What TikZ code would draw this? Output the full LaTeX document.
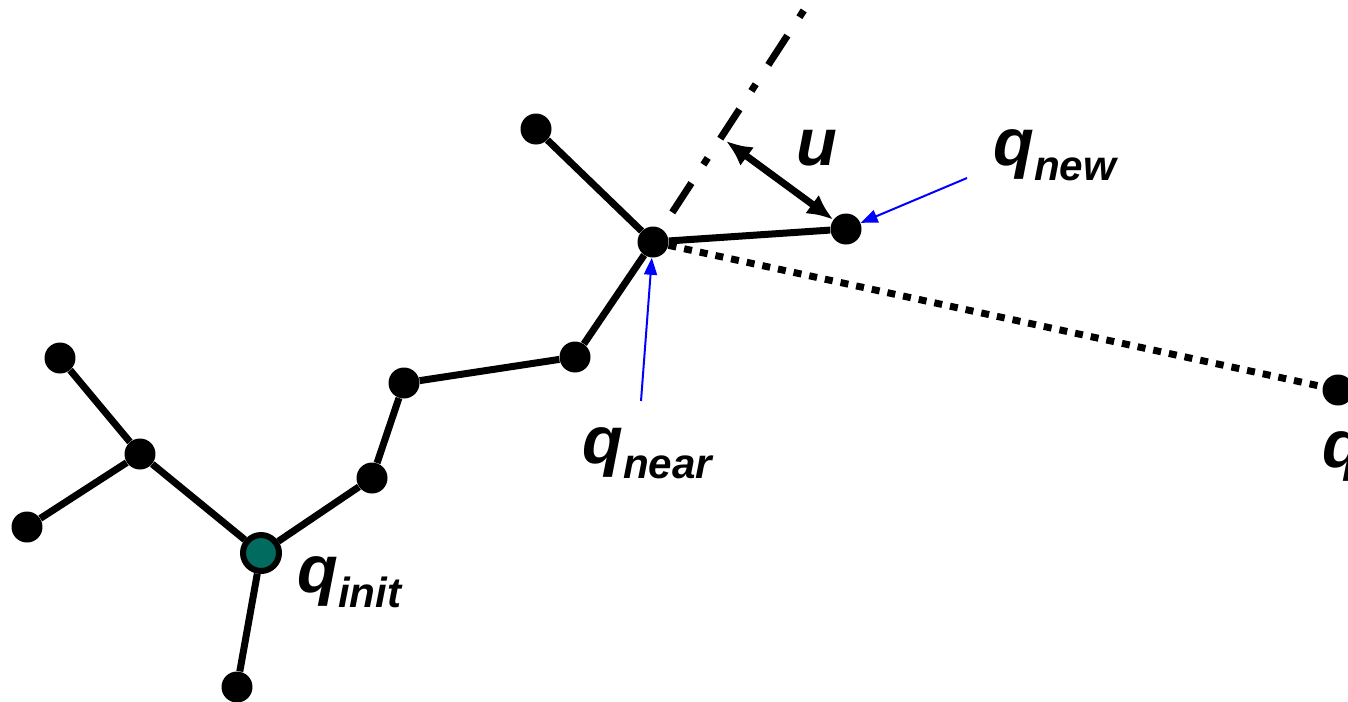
\documentclass[tikz,border=0pt]{standalone}
\usepackage{fontspec}
\setmainfont{Liberation Sans}
\usetikzlibrary{arrows.meta}
\definecolor{initteal}{RGB}{0,107,94}
\newcommand{\qsub}[1]{q\raisebox{-0.3cm}{\fontsize{24}{24}\selectfont #1}}

\begin{document}
\begin{tikzpicture}[x=0.02cm, y=-0.02cm, >={Latex[length=0.52cm,width=0.46cm]},
        vtx/.style={circle, fill=black, inner sep=0pt, minimum size=0.62cm},
        edge/.style={line width=0.14cm},
        pointer/.style={blue, line width=0.04cm, -{Triangle[length=0.34cm,width=0.26cm]}},
        lbl/.style={anchor=base west, inner sep=0pt, font=\fontsize{38}{40}\selectfont\bfseries\itshape}]
        \useasboundingbox (0,0) rectangle (1348,701);

        % tree
        \node[circle, draw=black, line width=0.12cm, fill=initteal, inner sep=0pt, minimum size=0.72cm] (qinit) at (261,553) {};
        \node[vtx] (leafbot) at (237,687) {};
        \node[vtx] (junc) at (140,454) {};
        \node[vtx] (leaftl) at (60,358) {};
        \node[vtx] (leafl) at (27,527) {};
        \node[vtx] (n1) at (372,478) {};
        \node[vtx] (n2) at (404,383) {};
        \node[vtx] (n3) at (575,357) {};
        \node[vtx] (qnear) at (653,242) {};
        \node[vtx] (leaftop) at (536,129) {};
        \node[vtx] (qnew) at (846,229) {};
        \node[vtx] (qrand) at (1338,390) {};

        \draw[edge] (qinit) -- (leafbot);
        \draw[edge] (qinit) -- (junc);
        \draw[edge] (junc) -- (leaftl);
        \draw[edge] (junc) -- (leafl);
        \draw[edge] (qinit) -- (n1);
        \draw[edge] (n1) -- (n2);
        \draw[edge] (n2) -- (n3);
        \draw[edge] (n3) -- (qnear);
        \draw[edge] (qnear) -- (leaftop);
        \draw[edge] (qnear) -- (qnew);
        \draw[edge, dash pattern=on 0.16cm off 0.16cm] (qnear) -- (qrand);

        % direction and step
        \coordinate (dirend) at (806,7);
        \draw[edge, dash pattern=on 0.7cm off 0.44cm on 0.16cm off 0.46cm, dash phase=1.37cm] (qnear) -- (dirend);
        \coordinate (ustart) at (726,141);
        \draw[edge, <->] (ustart) -- (qnew);

        % labels
        \node[lbl] (ulbl) at (796,165) {u};
        \node[lbl] (newlbl) at (993,165) {\qsub{new}};
        \node[lbl] (nearlbl) at (582,463) {\qsub{near}};
        \node[lbl] (initlbl) at (297,592) {\qsub{init}};
        \node[lbl] (randlbl) at (1322,467) {\qsub{rand}};

        \coordinate (newtail) at (967,178);
        \coordinate (neartail) at (641,401);
        \draw[pointer] (newtail) -- (qnew);
        \draw[pointer] (neartail) -- (qnear);
    \end{tikzpicture}
\end{document}
